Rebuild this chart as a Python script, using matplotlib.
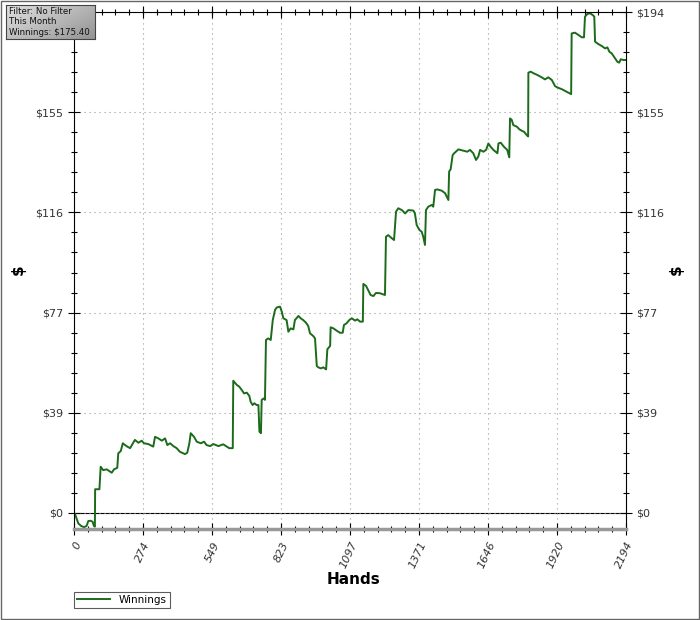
import numpy as np
import matplotlib
matplotlib.use("Agg")
import matplotlib.pyplot as plt
from matplotlib.patches import Rectangle

# Winnings graph (hand number, cumulative $)
hands = [
    0, 4, 17, 28, 40, 50, 57, 66, 74, 79, 83, 84, 101, 106, 116, 130, 150, 159,
    172, 176, 186, 194, 203, 212, 223, 242, 256, 269, 278, 295, 315, 322, 335,
    349, 362, 371, 382, 395, 408, 421, 441, 450, 458, 464, 477, 488, 504, 517,
    527, 541, 554, 574, 593, 607, 617, 631, 633, 647, 657, 667, 676, 687, 697,
    702, 710, 717, 726, 733, 737, 743, 746, 755, 759, 763, 772, 782, 790, 799,
    806, 819, 826, 832, 845, 852, 861, 872, 878, 892, 901, 911, 922, 931, 938,
    951, 958, 965, 971, 981, 991, 1002, 1007, 1018, 1020, 1031, 1044, 1057,
    1068, 1073, 1084, 1094, 1104, 1117, 1126, 1137, 1148, 1150, 1161, 1179,
    1190, 1200, 1216, 1236, 1240, 1249, 1263, 1272, 1280, 1289, 1303, 1316,
    1329, 1349, 1355, 1362, 1373, 1382, 1388, 1395, 1399, 1408, 1422, 1428,
    1435, 1444, 1462, 1475, 1488, 1491, 1497, 1505, 1511, 1528, 1547, 1563,
    1574, 1587, 1598, 1607, 1614, 1627, 1638, 1647, 1656, 1667, 1683, 1687,
    1696, 1709, 1722, 1730, 1733, 1740, 1746, 1760, 1770, 1780, 1789, 1799,
    1805, 1806, 1815, 1826, 1842, 1859, 1872, 1885, 1899, 1912, 1921, 1939,
    1958, 1976, 1978, 1991, 2005, 2018, 2027, 2031, 2040, 2051, 2062, 2068,
    2071, 2084, 2098, 2111, 2120, 2128, 2137, 2150, 2160, 2167, 2173, 2184,
    2194,
]
winnings = [
    0.0, -0.4, -4.0, -5.0, -5.5, -5.0, -3.1, -3.0, -3.4, -5.0, -5.3, 9.2, 9.2,
    17.9, 16.6, 16.9, 15.6, 16.9, 17.5, 23.1, 24.0, 27.0, 26.3, 25.7, 25.1,
    28.3, 27.2, 28.0, 27.0, 26.7, 25.7, 29.5, 28.9, 28.0, 28.9, 26.3, 27.0,
    25.9, 25.1, 23.7, 22.8, 23.3, 26.7, 30.9, 29.5, 27.6, 27.0, 27.6, 26.3,
    25.9, 26.7, 25.9, 26.6, 25.7, 25.1, 25.1, 51.2, 49.6, 48.9, 47.6, 46.3,
    46.6, 45.3, 43.1, 41.8, 42.5, 41.8, 41.8, 31.5, 30.9, 43.8, 44.4, 43.8,
    67.0, 67.6, 67.0, 74.7, 78.6, 79.6, 79.9, 77.9, 75.4, 74.7, 70.2, 71.5,
    71.1, 74.7, 76.3, 75.4, 74.7, 73.7, 72.4, 69.6, 68.5, 67.6, 56.9, 56.4,
    56.0, 56.4, 55.6, 63.4, 64.7, 71.9, 71.5, 70.6, 69.8, 69.8, 72.8, 73.5,
    74.7, 75.4, 74.5, 75.0, 74.1, 74.1, 88.7, 87.9, 84.4, 84.0, 85.2, 85.1,
    84.4, 107.0, 107.6, 106.4, 105.7, 116.7, 118.0, 117.3, 116.0, 117.3,
    117.1, 116.0, 111.5, 109.6, 108.9, 107.0, 103.8, 117.3, 118.6, 119.3,
    118.6, 125.1, 125.3, 124.8, 123.8, 121.2, 132.2, 133.1, 138.6, 139.3,
    140.8, 140.3, 139.9, 140.6, 139.3, 136.7, 138.0, 140.6, 139.9, 140.6,
    143.1, 141.8, 140.6, 139.3, 143.1, 143.4, 141.8, 140.6, 137.7, 152.8,
    152.2, 150.2, 149.6, 148.6, 148.0, 147.6, 146.4, 145.8, 170.5, 170.9,
    170.3, 169.6, 168.7, 167.9, 168.7, 167.7, 165.3, 164.8, 164.1, 163.1,
    162.2, 185.7, 186.0, 185.1, 184.2, 184.2, 192.2, 193.2, 193.5, 192.8,
    192.2, 182.5, 181.6, 180.8, 179.9, 180.3, 178.6, 178.0, 176.1, 174.7,
    174.4, 175.7, 175.4, 175.4,
]

x_ticks = [0, 274, 549, 823, 1097, 1371, 1646, 1920, 2194]
x_labels = ["0", "274", "549", "823", "1097", "1371", "1646", "1920", "2194"]
y_ticks = [0, 38.8, 77.6, 116.4, 155.2, 194]
y_labels = ["$0", "$39", "$77", "$116", "$155", "$194"]
info_lines = ["Filter: No Filter", "This Month", "Winnings: $175.40"]

GREEN = "#1b6b1b"

fig = plt.figure(figsize=(7, 6.2), dpi=100)
ax = fig.add_axes([74 / 700, 1 - 529 / 620, 552 / 700, 517 / 620])

ax.plot(hands, winnings, color=GREEN, linewidth=1.4, label="Winnings")
ax.axhline(0, color="black", linewidth=0.8, zorder=1)

ax.set_xlim(0, 2194)
ax.set_ylim(-6.2, 194)

ax.set_xticks(x_ticks)
ax.set_xticklabels(x_labels, rotation=65, ha="right", va="top",
                   rotation_mode="anchor", style="italic")
ax.set_xticks(np.linspace(0, 2194, 41), minor=True)
ax.set_yticks(y_ticks)
ax.set_yticklabels(y_labels)
ax.set_yticks(np.linspace(0, 194, 26), minor=True)

ax.tick_params(which="both", direction="inout", top=True, right=True,
               labelright=True, labelsize=8, labelcolor="#333333")
ax.tick_params(which="major", length=8, width=0.8)
ax.tick_params(which="minor", length=5, width=0.8)
ax.tick_params(axis="x", pad=4)

# the left $194 label sits under the info box in the reference
ax.yaxis.get_major_ticks()[-1].label1.set_visible(False)

ax.grid(True, which="major", linestyle=(0, (1, 3.5)), color="#999999",
        linewidth=0.8)

for side in ["left", "right", "top"]:
    ax.spines[side].set_linewidth(0.8)
ax.spines["bottom"].set_color("#999999")
ax.spines["bottom"].set_linewidth(2.5)

# axis titles
fig.text(353 / 700, 1 - 579 / 620, "Hands", fontsize=11, fontweight="bold",
         ha="center", va="center")
fig.text(18 / 700, 1 - 270 / 620, "$", rotation=90, fontsize=11,
         fontweight="bold", ha="center", va="center")
fig.text(676 / 700, 1 - 270 / 620, "$", rotation=90, fontsize=11,
         fontweight="bold", ha="center", va="center")

# legend at the bottom left, square box
leg = fig.legend(loc="upper left", bbox_to_anchor=(74 / 700, 1 - 592 / 620),
                 fontsize=7.5, frameon=True, fancybox=False, borderpad=0.3,
                 handlelength=3.2, handletextpad=0.8, borderaxespad=0)
leg.get_frame().set_edgecolor("#333333")
leg.get_frame().set_linewidth(0.8)

# gray gradient info box in the top left corner
box = fig.add_axes([6 / 700, 1 - 39 / 620, 89 / 700, 34 / 620])
gx, gy = np.meshgrid(np.linspace(0, 1, 60), np.linspace(0, 1, 20))
box.imshow(0.88 - 0.3 * (0.6 * gx + 0.4 * gy), cmap="gray", vmin=0, vmax=1,
           aspect="auto", extent=(0, 1, 0, 1))
for s in box.spines.values():
    s.set_color("#444444")
    s.set_linewidth(0.8)
box.set_xticks([])
box.set_yticks([])
for i, line in enumerate(info_lines):
    box.text(0.03, 0.82 - i * 0.32, line, fontsize=6.2, color="#111111",
             va="center", ha="left", transform=box.transAxes)

# thin frame round the whole picture
fig.patches.append(Rectangle((0.001, 0.002), 0.997, 0.996, fill=False,
                             edgecolor="#666666", linewidth=1,
                             transform=fig.transFigure, figure=fig))

fig.savefig("out.png", dpi=100)
